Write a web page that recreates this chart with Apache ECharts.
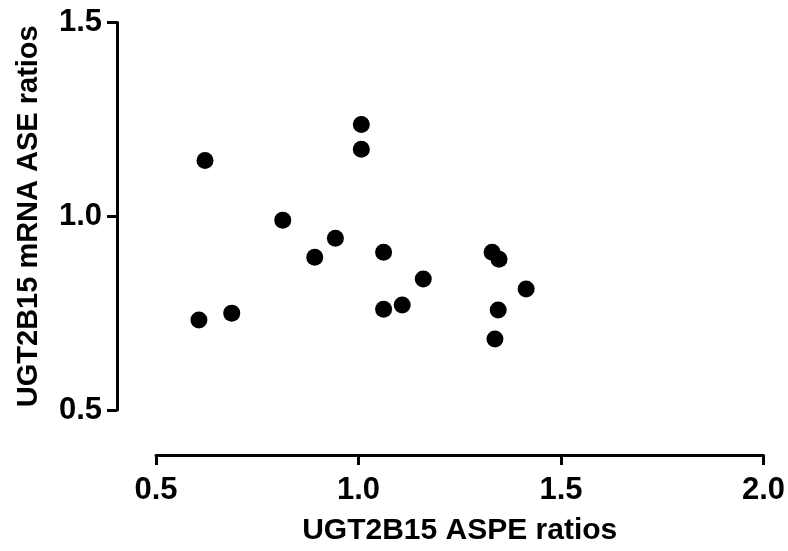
<!DOCTYPE html>
<html>
<head>
<meta charset="utf-8">
<script src="https://cdn.jsdelivr.net/npm/echarts@6/dist/echarts.min.js"></script>
<style>
html,body{margin:0;padding:0;background:#fff;}
#chart{width:788px;height:551px;}
</style>
</head>
<body>
<div id="chart"></div>
<script>
// ASPE ratios (x) and mRNA ASE ratios (y) per sample
const aspeRatios = [0.621, 1.007, 1.007, 0.813, 0.943, 0.606, 0.687, 0.892, 1.062, 1.062, 1.108, 1.160, 1.330, 1.347, 1.414, 1.345, 1.337];
const aseRatios  = [1.144, 1.237, 1.173, 0.990, 0.943, 0.732, 0.750, 0.894, 0.907, 0.760, 0.771, 0.838, 0.907, 0.889, 0.812, 0.758, 0.683];
const xTicks = [0.5, 1.0, 1.5, 2.0];
const yTicks = [0.5, 1.0, 1.5];
const xTitle = 'UGT2B15 ASPE ratios';
const yTitle = 'UGT2B15 mRNA ASE ratios';

const points = aspeRatios.map((x, i) => [x, aseRatios[i]]);
const font = 'Liberation Sans, Arial, Helvetica, sans-serif';

const chart = echarts.init(document.getElementById('chart'), null, {renderer: 'canvas'});
chart.setOption({
  animation: false,
  backgroundColor: '#ffffff',
  grid: {left: 156, right: 23, top: 22.5, bottom: 141, containLabel: false},
  xAxis: {
    type: 'value',
    min: xTicks[0], max: xTicks[xTicks.length - 1], interval: 0.5,
    offset: 45,
    axisLine: {show: true, lineStyle: {color: '#000', width: 3}},
    axisTick: {show: true, length: 10, lineStyle: {color: '#000', width: 3}},
    splitLine: {show: false},
    axisLabel: {
      color: '#000', fontSize: 31, fontWeight: 'bold', fontFamily: font, margin: 20,
      formatter: v => v.toFixed(1)
    },
    name: xTitle, nameLocation: 'middle', nameGap: 61,
    nameTextStyle: {color: '#000', fontSize: 30, fontWeight: 'bold', fontFamily: font}
  },
  yAxis: {
    type: 'value',
    min: yTicks[0], max: yTicks[yTicks.length - 1], interval: 0.5,
    offset: 39,
    axisLine: {show: true, lineStyle: {color: '#000', width: 3}},
    axisTick: {show: true, length: 10, lineStyle: {color: '#000', width: 3}},
    splitLine: {show: false},
    axisLabel: {
      color: '#000', fontSize: 31, fontWeight: 'bold', fontFamily: font, margin: 15,
      formatter: v => v.toFixed(1)
    },
    name: yTitle, nameLocation: 'middle', nameGap: 74,
    nameTextStyle: {color: '#000', fontSize: 29, fontWeight: 'bold', fontFamily: font}
  },
  series: [{
    type: 'scatter',
    data: points,
    symbol: 'circle',
    symbolSize: 17,
    itemStyle: {color: '#000', opacity: 1}
  }]
});
</script>
</body>
</html>
